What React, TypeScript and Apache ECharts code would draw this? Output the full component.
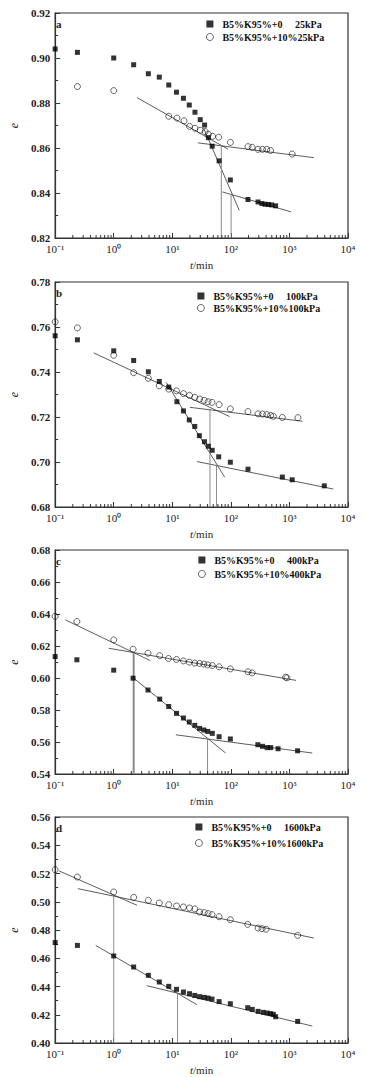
import React, { useEffect, useRef } from "react";
import * as echarts from "echarts";

// ---------- data (t in min, e) ----------
const aSquares = [[0.1,0.904],[0.24,0.9025],[1,0.900],[2.19,0.897],[3.9,0.893],[6.0,0.8915],[8.7,0.888],[11.8,0.8848],[15.5,0.8821],[19.5,0.8791],[24.4,0.8759],[30,0.8726],[35.6,0.8702],[41.3,0.8646],[48,0.8608],[63,0.8543],[98,0.8458],[196,0.8371],[291,0.836],[339,0.8353],[385,0.835],[438,0.8349],[497,0.8347],[580,0.8343]];
const aCircles = [[0.24,0.8873],[1,0.8855],[8.7,0.8741],[12,0.8733],[15.9,0.8721],[19.7,0.8696],[24.4,0.8688],[30,0.8679],[36.4,0.8673],[41.3,0.8661],[48.7,0.8652],[62,0.8648],[98,0.8625],[196,0.8606],[231,0.8603],[291,0.8594],[347,0.8594],[410,0.8594],[476,0.8589],[1114,0.8573]];
const aFits = [[[2.5,0.8824],[89,0.8595]],[[27.2,0.8623],[2612,0.8557]],[[34.5,0.8687],[139,0.8323]],[[71.3,0.8405],[1072,0.8316]]];
const aDrops = [[[68.7,0.8612],[68.7,0.82]],[[101,0.8396],[101,0.82]]];

const bSquares = [[0.1,0.7561],[0.24,0.7543],[1,0.7494],[2.19,0.7451],[3.9,0.7401],[6.0,0.7358],[8.7,0.7333],[12,0.7268],[15.5,0.7227],[19.5,0.7187],[24.2,0.7158],[29,0.7117],[35.5,0.709],[41.3,0.707],[48,0.7052],[62,0.7023],[98,0.6999],[196,0.6968],[757,0.6933],[1114,0.6921],[3937,0.6894]];
const bCircles = [[0.1,0.7623],[0.24,0.7596],[1,0.7474],[2.19,0.7397],[3.9,0.7372],[6.0,0.7339],[8.7,0.7324],[11.8,0.7316],[15.5,0.7304],[19.7,0.7296],[24.2,0.7287],[29.3,0.728],[35,0.7274],[40.8,0.7268],[47.6,0.7265],[63,0.7255],[98,0.7236],[196,0.7224],[291,0.7214],[347,0.7213],[410,0.7211],[476,0.7207],[531,0.7203],[757,0.7198],[1396,0.7197]];
const bFits = [[[0.457,0.7485],[94.8,0.7202]],[[20,0.7243],[1675,0.7181]],[[7.87,0.7354],[78.3,0.6933]],[[26.3,0.7002],[5600,0.688]]];
const bDrops = [[[44,0.7236],[44,0.68]],[[56.8,0.6988],[56.8,0.68]]];

const cSquares = [[0.1,0.6134],[0.235,0.6114],[1,0.6049],[2.14,0.5999],[3.85,0.5925],[6.1,0.5868],[8.7,0.5822],[11.8,0.5779],[15.5,0.575],[19.5,0.5725],[24.2,0.5704],[29.2,0.5685],[34.6,0.5675],[40.2,0.5666],[48.2,0.5654],[63,0.5633],[98,0.5619],[289,0.5583],[347,0.5573],[417,0.5565],[479,0.5565],[640,0.5558],[1380,0.5545]];
const cCircles = [[0.1,0.6385],[0.235,0.6353],[1,0.6238],[2.14,0.618],[3.85,0.6155],[6.1,0.614],[8.6,0.6122],[11.8,0.6116],[15.5,0.6107],[19.5,0.6099],[24.2,0.6093],[29.2,0.6091],[34.6,0.6087],[40.2,0.6082],[48.2,0.6078],[63,0.607],[98,0.6057],[196,0.6039],[231,0.6032],[861,0.6005],[908,0.6001]];
const cFits = [[[0.15,0.6363],[4.2,0.6109]],[[0.82,0.6186],[1297,0.5985]],[[2.19,0.5999],[81.3,0.5531]],[[11.5,0.5645],[2455,0.5531]]];
const cDrops = [[[2.19,0.6159],[2.19,0.54]],[[40,0.5621],[40,0.54]]];

const dSquares = [[0.1,0.4711],[0.24,0.4691],[1,0.4616],[2.19,0.4538],[3.9,0.4479],[6.0,0.4432],[8.7,0.4401],[11.8,0.438],[15.5,0.4361],[19.7,0.4349],[24.2,0.4337],[29.3,0.4328],[35,0.4323],[40.8,0.4318],[47.6,0.4311],[63,0.4293],[98,0.4278],[194,0.425],[232,0.4238],[292,0.4224],[357,0.4217],[417,0.4212],[473,0.4208],[531,0.4203],[581,0.4186],[1384,0.4153]];
const dCircles = [[0.1,0.5227],[0.24,0.5175],[1,0.5069],[2.19,0.5031],[3.9,0.501],[6.0,0.4991],[8.7,0.4979],[11.8,0.497],[15.5,0.4963],[19.7,0.4956],[24.2,0.4949],[29.3,0.4927],[35,0.4923],[40.8,0.4916],[47.6,0.4909],[63,0.4894],[98,0.4873],[194,0.484],[292,0.4814],[340,0.4809],[400,0.4805],[1384,0.4762]];
const dFits = [[[0.117,0.5218],[2.5,0.4975]],[[0.244,0.5093],[2617,0.4743]],[[0.493,0.4691],[26.4,0.4271]],[[3.66,0.4406],[2455,0.412]]];
const dDrops = [[[1,0.5045],[1,0.40]],[[12.3,0.4352],[12.3,0.40]]];

const panelLetters = ["a", "b", "c", "d"];
const squareNames = ["B5%K95%+0 25kPa", "B5%K95%+0 100kPa", "B5%K95%+0 400kPa", "B5%K95%+0 1600kPa"];
const circleNames = ["B5%K95%+10%25kPa", "B5%K95%+10%100kPa", "B5%K95%+10%400kPa", "B5%K95%+10%1600kPa"];
const yMins = [0.82, 0.68, 0.54, 0.40];
const yMaxs = [0.92, 0.78, 0.68, 0.56];
const xTickDecades = [0.1, 1, 10, 100, 1000];
const xMinorMultipliers = [2, 3, 4, 5, 6, 7, 8, 9];

const squaresAll = [aSquares, bSquares, cSquares, dSquares];
const circlesAll = [aCircles, bCircles, cCircles, dCircles];
const fitsAll = [aFits, bFits, cFits, dFits];
const dropsAll = [aDrops, bDrops, cDrops, dDrops];

// ---------- layout ----------
const gridTops = [13, 282, 550, 817];
const gridHeights = [225, 225, 224, 226];
const legendTops = [19, 291, 555, 822];
const legendLefts = [206, 197, 198, 195];
const legendGaps = [3, 2, 4, 6];
const dropWidths = [[1, 1], [1, 1], [2, 1], [1, 1]];

const FONT = "'Liberation Serif', 'Times New Roman', serif";
const SUP: Record<string, string> = { "-": "\u207B", "0": "\u2070", "1": "\u00B9", "2": "\u00B2", "3": "\u00B3", "4": "\u2074" };

function supLabel(v: number) {
  const ex = Math.round(Math.log10(v));
  return "10" + String(ex).split("").map((c) => SUP[c] || c).join("");
}

export default function App() {
  const ref = useRef<HTMLDivElement>(null);
  useEffect(() => {
    document.body.style.margin = "0";
    const chart = echarts.init(ref.current!, null, { renderer: "svg" });
    const grids: any[] = [];
    const xAxes: any[] = [];
    const yAxes: any[] = [];
    const series: any[] = [];
    const legends: any[] = [];
    const graphics: any[] = [];
    const minorVals: number[] = [];
    xTickDecades.forEach((d) => xMinorMultipliers.forEach((m) => minorVals.push(m * d)));

    for (let i = 0; i < 4; i++) {
      grids.push({ left: 48, width: 300, top: gridTops[i], height: gridHeights[i], show: true, borderColor: "#333", borderWidth: 1.2, backgroundColor: "transparent" });
      xAxes.push({
        type: "log", logBase: 10, min: 0.1, max: 10000, gridIndex: i,
        axisLine: { lineStyle: { color: "#333", width: 1.2 } },
        axisTick: { inside: true, length: 5, lineStyle: { color: "#333" } },
        splitLine: { show: false },
        axisLabel: { formatter: (v: number) => supLabel(v), fontFamily: FONT, fontSize: 11, color: "#222", margin: 5 },
        name: "{i|t}/min", nameLocation: "middle", nameGap: 21,
        nameTextStyle: { fontFamily: FONT, fontSize: 11, color: "#222", rich: { i: { fontFamily: FONT, fontSize: 11, fontStyle: "italic", color: "#222" } } },
      });
      yAxes.push({
        type: "value", min: yMins[i], max: yMaxs[i], interval: 0.02, gridIndex: i,
        axisLine: { show: true, lineStyle: { color: "#333", width: 1.2 } },
        axisTick: { show: true, inside: true, length: 5, lineStyle: { color: "#333" } },
        minorTick: { show: true, splitNumber: 2, length: 3, lineStyle: { color: "#333" } },
        splitLine: { show: false },
        axisLabel: { formatter: (v: number) => v.toFixed(2), fontFamily: FONT, fontSize: 11, fontWeight: "bold", color: "#222", margin: 5 },
        name: "e", nameLocation: "middle", nameGap: 35, nameRotate: 90,
        nameTextStyle: { fontFamily: FONT, fontSize: 12, fontStyle: "italic", color: "#222" },
      });
      fitsAll[i].forEach((f, k) => series.push({
        type: "line", name: "fit" + i + k, xAxisIndex: i, yAxisIndex: i, data: f, symbol: "none", silent: true, z: 2,
        lineStyle: { color: "#333", width: 0.8 },
      }));
      dropsAll[i].forEach((f, k) => series.push({
        type: "line", name: "drop" + i + k, xAxisIndex: i, yAxisIndex: i, data: f, symbol: "none", silent: true, z: 2,
        lineStyle: { color: "#8a8a8a", width: dropWidths[i][k] },
      }));
      series.push({
        type: "custom", name: "minor" + i, xAxisIndex: i, yAxisIndex: i, silent: true, z: 4,
        data: minorVals.map((v) => [v, yMins[i]]),
        renderItem: (_p: any, api: any) => {
          const pt = api.coord([api.value(0), api.value(1)]);
          return { type: "line", shape: { x1: pt[0], y1: pt[1], x2: pt[0], y2: pt[1] - 3 }, style: { stroke: "#333", lineWidth: 1 } };
        },
      });
      series.push({
        type: "scatter", name: squareNames[i], xAxisIndex: i, yAxisIndex: i, data: squaresAll[i], symbol: "rect", symbolSize: 5, z: 5,
        itemStyle: { color: "#000" },
      });
      series.push({
        type: "scatter", name: circleNames[i], xAxisIndex: i, yAxisIndex: i, data: circlesAll[i], symbol: "circle", symbolSize: 6, z: 5,
        itemStyle: { color: "rgba(0,0,0,0)", borderColor: "#111", borderWidth: 0.8 },
      });
      legends.push({
        orient: "vertical", left: legendLefts[i], top: legendTops[i], itemGap: legendGaps[i], itemWidth: 7, itemHeight: 7,
        padding: 0,
        selectedMode: false,
        formatter: (name: string) => name.replace(" ", "\u00A0".repeat(5)),
        textStyle: { fontFamily: FONT, fontSize: 10, fontWeight: "bold", color: "#111", padding: [0, 0, 0, 4] },
        data: [
          { name: squareNames[i], icon: "rect", itemStyle: { color: "#000", borderWidth: 0 } },
          { name: circleNames[i], icon: "circle", itemStyle: { color: "#fff", borderColor: "#111", borderWidth: 0.8 } },
        ],
      });
      graphics.push({
        type: "text", left: 56, top: gridTops[i] + 5,
        style: { text: panelLetters[i], font: "bold 11px " + FONT, fill: "#222" },
      });
    }

    chart.setOption({
      animation: false,
      backgroundColor: "#fff",
      grid: grids, xAxis: xAxes, yAxis: yAxes, series, legend: legends, graphic: graphics,
    });
    return () => chart.dispose();
  }, []);
  return <div ref={ref} style={{ position: "absolute", left: 0, top: 0, width: 366, height: 1077 }} />;
}
